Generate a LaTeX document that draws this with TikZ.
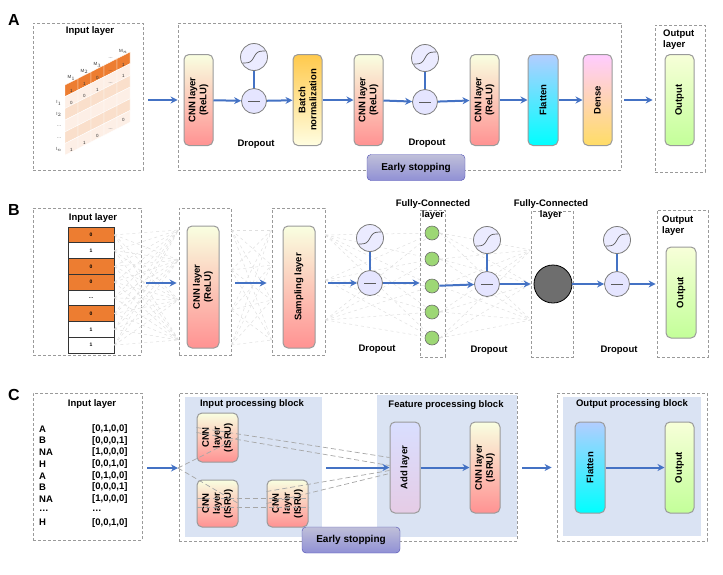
\documentclass[tikz,border=0pt]{standalone}
\usepackage{fontspec}
\setmainfont{Liberation Sans}
\usetikzlibrary{arrows.meta,calc}
\definecolor{arrb}{HTML}{4472C4}
\definecolor{dg}{HTML}{9A9A9A}
\definecolor{org}{HTML}{ED7D31}
\definecolor{blk}{HTML}{DAE3F3}
\begin{document}
\begin{tikzpicture}[x=1pt,y=-1pt,font=\bfseries\fontsize{9.5}{11}\selectfont,
  box/.style={draw=dg,dashed,dash pattern=on 3pt off 2pt,line width=0.8pt,inner sep=0pt},
  lay/.style={draw=dg,line width=1pt,rounded corners=5pt,rotate=90,inner sep=1pt,align=center},
  cnn/.style={lay,bottom color=red!30!pink!90,top color=green!20!yellow!12!white},
  outn/.style={lay,bottom color=green!45!lime!40!white,top color=green!20!yellow!15!white},
  flat/.style={lay,bottom color=cyan,top color=cyan!35!blue!30!white},
  arr/.style={draw=arrb,line width=2pt,-{Stealth[length=7pt,width=7pt]}},
  act/.style={circle,draw=dg!80!black,line width=0.8pt,fill=blue!8,minimum size=27pt,inner sep=0pt},
  mn/.style={circle,draw=dg!80!black,line width=0.8pt,fill=blue!10,minimum size=25pt,inner sep=0pt},
  faint/.style={draw=gray!25,dashed,line width=0.5pt},
  gl/.style={draw=gray!70,dashed,dash pattern=on 5pt off 3pt,line width=0.7pt},
  tiny/.style={font=\fontsize{4.5}{5}\selectfont,text=black!80},
  es/.style={draw=blue!40!gray,rounded corners=4pt,top color=blue!25!gray!40!white,bottom color=blue!45!gray!60!white,minimum width=98pt,minimum height=26pt,font=\bfseries\fontsize{10}{11}\selectfont},
  plab/.style={font=\bfseries\fontsize{16}{17}\selectfont}]
\useasboundingbox (0,0) rectangle (723,574);
\newcommand{\mydrop}[4]{% name, x, y act, y minus
  \node[act] (#1a) at (#2,#3) {};
  \node[mn] (#1m) at (#2,#4) {};
  \draw[arrb,line width=1.5pt] (#1a) -- (#1m);
  \draw[dg!60!black,line width=0.8pt] ($(#1m.center)+(-6,0)$) -- ($(#1m.center)+(6,0)$);
  \draw[dg!60!black,line width=0.7pt,shift={(#1a.center)}] plot[domain=-11:11,samples=25] (\x,{-6*tanh(\x/3.5)});
}
%%%%%%%%%%%%%% A
\node[plab] (labA) at (14,20) {A};
\node[box,minimum width=110pt,minimum height=147pt] (inA) at (88,96.5) {};
\node (inAt) at (90,31) {Input layer};
\foreach \j in {0,...,5}{\foreach \i in {0,...,4}{
  \pgfmathsetmacro{\xx}{65+13*\i}\pgfmathsetmacro{\yy}{85-6.6*\i+11.7*\j}
  \ifnum\j=0 \def\cc{org}\else\ifodd\j \def\cc{org!12}\else\def\cc{org!25}\fi\fi
  \fill[\cc,draw=white,line width=0.4pt] (\xx,\yy) -- (\xx+13,\yy-6.6) -- (\xx+13,\yy+5.1) -- (\xx,\yy+11.7) -- cycle;}}
\foreach \i/\t in {0/1,1/1,2/0,3/{\ldots},4/1}{\node[tiny] at (71.5+13*\i,91-6.6*\i) {\t};}
\foreach \i/\t in {0/0,1/0,2/1,3/{\ldots},4/1}{\node[tiny] at (71.5+13*\i,102.7-6.6*\i) {\t};}
\foreach \i/\t in {0/1,1/1,2/0,3/{\ldots}}{\node[tiny] at (71.5+13*\i,149.5-6.6*\i) {\t};}
\node[tiny] at (123.5,120) {0};
\foreach \i/\t in {0/M$_1$,1/M$_2$,2/M$_3$,3/{\ldots},4/M$_n$}{\node[tiny] at (71.5+13*\i,78-6.6*\i) {\t};}
\foreach \j/\t in {1/I$_1$,2/I$_2$,3/{\ldots},4/{\ldots},5/I$_n$}{\node[tiny] at (59,91+11.7*\j) {\t};}
\node[box,minimum width=443pt,minimum height=147pt] (bigA) at (399.5,96.5) {};
\node[cnn,minimum width=91pt,minimum height=29pt] (a1) at (198.5,100) {CNN layer\\(ReLU)};
\mydrop{d1}{254}{57}{101}
\node at (256,144) {Dropout};
\node[lay,minimum width=91pt,minimum height=29pt,bottom color=orange!10!yellow!12!white,top color=orange!60!yellow!70!white] (bn) at (307.5,100) {Batch\\normalization};
\node[cnn,minimum width=91pt,minimum height=29pt] (a2) at (368.5,100) {CNN layer\\(ReLU)};
\mydrop{d2}{425}{58}{102}
\node at (427,143) {Dropout};
\node[cnn,minimum width=91pt,minimum height=29pt] (a3) at (484.5,100) {CNN layer\\(ReLU)};
\node[flat,minimum width=91pt,minimum height=30pt] (fl) at (543,100) {Flatten};
\node[lay,minimum width=91pt,minimum height=29pt,bottom color=orange!45!yellow!60!white,top color=magenta!20!white] (de) at (597.5,100) {Dense};
\node[box,minimum width=50pt,minimum height=147pt] (oA) at (680,98.5) {};
\node[align=left,anchor=north west,inner sep=0pt] (oAt) at (663,30) {Output\\layer};
\node[outn,minimum width=91pt,minimum height=29pt] (ao) at (679.5,100) {Output};
\node[es] (esA) at (416,167.5) {Early stopping};
\draw[arr] ($(inA.east|-a1)+(5,0)$) -- (bigA.west|-a1);
\draw[arr] (a1) -- (d1m); \draw[arr] (d1m) -- (bn); \draw[arr] (bn) -- (a2);
\draw[arr] (a2) -- (d2m); \draw[arr] (d2m) -- (a3); \draw[arr] (a3) -- (fl); \draw[arr] (fl) -- (de);
\draw[arr] ($(bigA.east|-de)+(3,0)$) -- ($(oA.west|-de)+(-2,0)$);
%%%%%%%%%%%%%% B
\node[plab] (labB) at (14,210) {B};
\node[box,minimum width=108pt,minimum height=147pt] (inB) at (87,281.5) {};
\node (inBt) at (93,218) {Input layer};
\foreach \k/\v/\c in {1/0/org,2/1/white,3/0/org,4/0/org,5/{\ldots}/white,6/0/org,7/1/white,8/1/white}{
  \node[draw=black!80,line width=0.7pt,fill=\c,minimum width=46pt,minimum height=15.75pt,inner sep=0pt,font=\bfseries\fontsize{5}{6}\selectfont] (c\k) at (91,219.1+15.75*\k) {\v};}
\node[box,minimum width=52pt,minimum height=147pt] (cbB) at (205,281.5) {};
\node[box,minimum width=53pt,minimum height=147pt] (sbB) at (298.5,281.5) {};
% faint lines
\foreach \k in {1,...,8}{\foreach \t in {230,260,300,340}{\draw[faint] (c\k.east) -- (cbB.west|-0,\t);}}
\foreach \s in {230,270,310,345}{\foreach \t in {230,265,300,340}{\draw[faint] (cbB.east|-0,\s) -- (sbB.west|-0,\t);}}
\foreach \s in {235,280,320}{\foreach \t in {233,259,286,312,338}{\draw[faint] (sbB.east|-0,\s) -- (433,\t);}}
\foreach \s in {233,259,286,312,338}{\foreach \t in {250,284,320}{\draw[faint] (440,\s) -- (531,\t);}}
\node[cnn,minimum width=122pt,minimum height=32pt] (b1) at (203,287) {CNN layer\\(ReLU)};
\node[cnn,minimum width=122pt,minimum height=32pt] (b2) at (299,287) {Sampling layer};
\mydrop{d3}{370}{238}{283}
\node at (377,349) {Dropout};
\node[box,minimum width=25pt,minimum height=147pt] (fcB) at (432.5,283.5) {};
\node[align=center] (fct) at (433,210) {Fully-Connected\\layer};
\foreach \k/\yy in {1/233,2/259,3/286,4/312,5/338}{\node[circle,draw=dg!70!black,line width=0.6pt,fill=green!45!lime!55!gray!70,minimum size=14pt,inner sep=0pt] (g\k) at (432,\yy) {};}
\mydrop{d4}{487}{240}{284}
\node at (489,350) {Dropout};
\node[box,minimum width=42pt,minimum height=146pt] (fc2) at (552,284) {};
\node[align=center] (fc2t) at (551,210) {Fully-Connected\\layer};
\node[circle,draw=black,line width=0.8pt,fill=black!57,minimum size=38pt,inner sep=0pt] (big) at (553,284) {};
\mydrop{d5}{617}{240}{284}
\node at (619,350) {Dropout};
\node[box,minimum width=51pt,minimum height=147pt] (oB) at (682.5,283.5) {};
\node[align=left,anchor=north west,inner sep=0pt] (oBt) at (662,216) {Output\\layer};
\node[outn,minimum width=91pt,minimum height=30pt] (bo) at (681,292.5) {Output};
\draw[arr] ($(inB.east|-b1)+(5,-4)$) -- ($(cbB.west|-b1)+(-2,-4)$);
\draw[arr] ($(cbB.east|-b1)+(4,-4)$) -- ($(sbB.west|-b1)+(-5,-4)$);
\draw[arr] ($(sbB.east|-d3m)+(3,0)$) -- (d3m);
\draw[arr] (d3m) -- (fcB.west|-d3m);
\draw[arr] (g3) -- (d4m);
\draw[arr] (d4m) -- (fc2.west|-d4m);
\draw[arr] (big) -- (d5m);
\draw[arr] (d5m) -- ($(oB.west|-d5m)+(-1,0)$);
%%%%%%%%%%%%%% C
\node[plab] (labC) at (14,395) {C};
\node[box,minimum width=109pt,minimum height=147pt] (inC) at (87.5,466.5) {};
\node (inCt) at (92,404) {Input layer};
\foreach \k/\a/\b in {0/A/{[0,1,0,0]},1/B/{[0,0,0,1]},2/NA/{[1,0,0,0]},3/H/{[0,0,1,0]},4/A/{[0,1,0,0]},5/B/{[0,0,0,1]},6/NA/{[1,0,0,0]},7/{\ldots}/{\ldots},8/H/{[0,0,1,0]}}{
  \node[anchor=west,inner sep=0pt] at (39,429+11.7*\k) {\a};
  \node[anchor=west,inner sep=0pt] at (92,429+11.7*\k) {\b};}
\node[box,minimum width=338pt,minimum height=148pt] (bigC) at (348,467) {};
\fill[blk] (185,397) rectangle (322,537);
\fill[blk] (377,395) rectangle (517,537);
\node[box,minimum width=150pt,minimum height=148pt] (oC) at (632,467) {};
\fill[blk] (563,397) rectangle (701,536);
\node (ipt) at (252,404) {Input processing block};
\node (fpt) at (446,405) {Feature processing block};
\node (opt) at (632,404) {Output processing block};
\node[cnn,minimum width=49pt,minimum height=41pt] (e1) at (217.5,437.5) {CNN\\layer\\(ISRU)};
\node[cnn,minimum width=47pt,minimum height=41pt] (e2) at (217.5,503.5) {CNN\\layer\\(ISRU)};
\node[cnn,minimum width=47pt,minimum height=41pt] (e3) at (287.5,503.5) {CNN\\layer\\(ISRU)};
\node[lay,minimum width=91pt,minimum height=30pt,bottom color=violet!20!white,top color=cyan!15!blue!15!white] (add) at (405,467.5) {Add layer};
\node[cnn,minimum width=91pt,minimum height=30pt] (e4) at (485,467.5) {CNN layer\\(ISRU)};
\node[flat,minimum width=91pt,minimum height=30pt] (fl2) at (590,467.5) {Flatten};
\node[outn,minimum width=91pt,minimum height=29pt] (oc) at (679.5,467.5) {Output};
\coordinate (split) at (178,468);
\draw[gl] (split) -- (e1.south); \draw[gl] (split) -- (e2.south);
\draw[gl] ($(e1.north)+(0,-10)$) -- ($(add.north)+(0,-10)$);
\draw[gl] ($(e1.north)+(0,-5)$) -- ($(add.north)+(0,-2)$);
\draw[gl] ($(e2.north)+(0,-5)$) -- ($(e3.south)+(0,-5)$);
\draw[gl] ($(e2.north)+(0,4)$) -- ($(e3.south)+(0,4)$);
\draw[gl] ($(e3.north)+(0,-12)$) -- ($(add.north)+(0,3)$);
\draw[gl] ($(e3.north)+(0,0)$) -- ($(add.north)+(0,6)$);
\draw[arr] ($(inC.east|-split)+(5,0)$) -- (split);
\coordinate (mid) at (326,467.5);
\draw[arr] (mid) -- (add.north);
\draw[arr] (add) -- (e4);
\draw[arr] ($(bigC.east|-e4)+(5,0)$) -- ($(oC.west|-e4)+(-5,0)$);
\draw[arr] (fl2) -- (oc);
\node[es] (esC) at (351,540) {Early stopping};
\end{tikzpicture}
\end{document}
